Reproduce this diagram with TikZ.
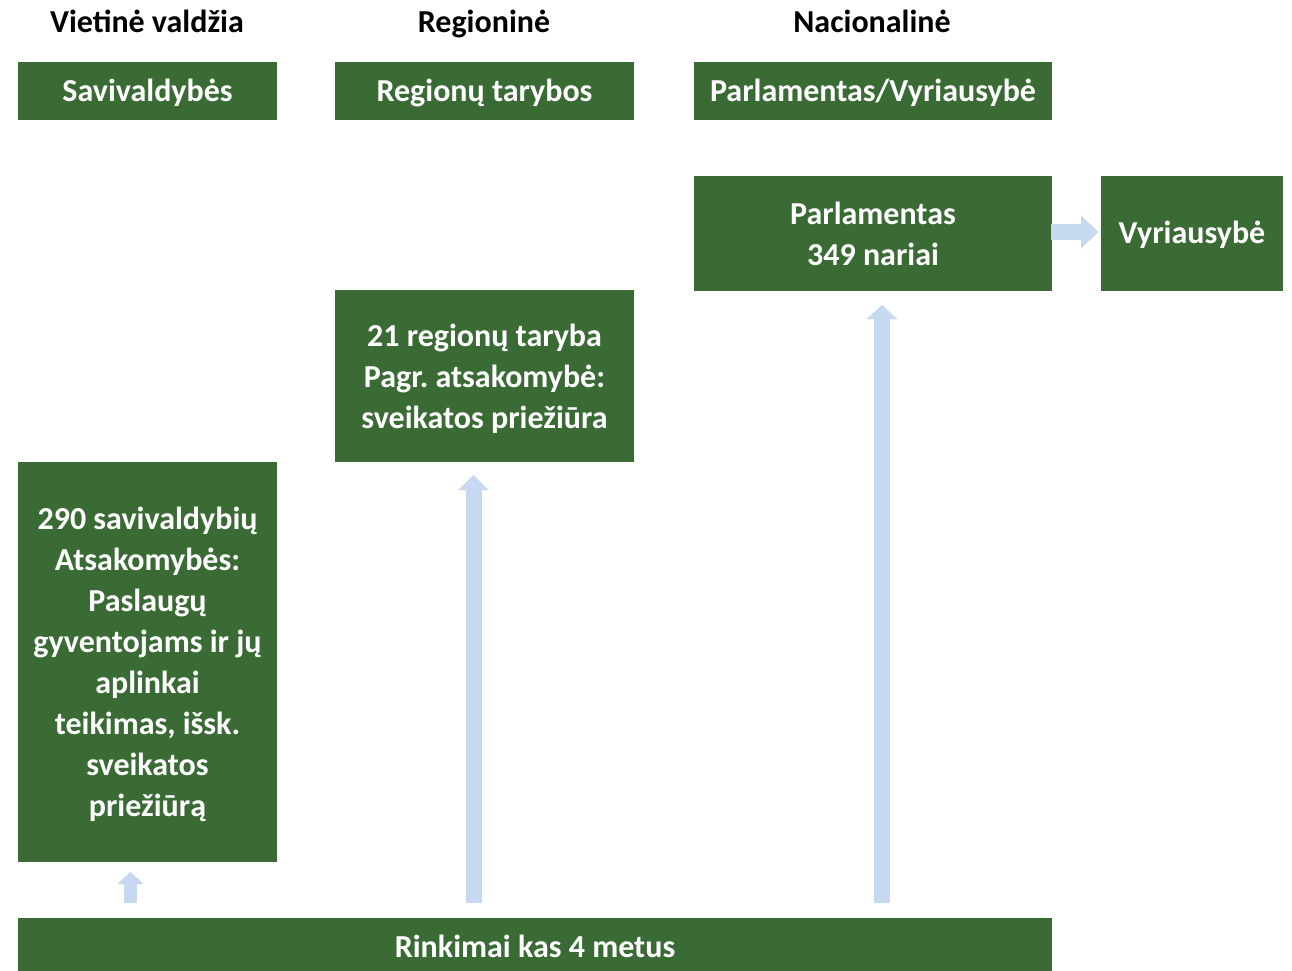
\documentclass[tikz,border=0pt]{standalone}
\usepackage{fontspec}
\setmainfont{Carlito}
\usetikzlibrary{arrows.meta}
\frenchspacing
\definecolor{boxgreen}{HTML}{3A6B35}
\definecolor{arrowblue}{HTML}{C6D9F1}
\newcommand\lstrut{\vrule width 0pt height 26pt depth 6pt\relax}
\tikzset{
  lbl/.style={font=\fontsize{32}{41}\selectfont\bfseries\frenchspacing, align=center, inner sep=0pt,
    execute at begin node=\lstrut, execute at end node=\lstrut},
  box/.style={lbl, fill=boxgreen, text=white, minimum width=#1, anchor=center},
  mlbox/.style={box=#1, text depth=0pt},
  barrow/.style={draw=arrowblue, line width=#1},
  bshadow/.style={draw=black, draw opacity=0.18, line width=#1},
}
\begin{document}
\begin{tikzpicture}[x=1pt,y=-1pt]
\useasboundingbox (0,0) rectangle (1292,970);
% headers
\node[lbl] (h1) at (147,22) {Vietinė valdžia};
\node[lbl] (h2) at (484,22) {Regioninė};
\node[lbl] (h3) at (872,22) {Nacionalinė};
% top boxes
\node[box=259pt, minimum height=58pt] (sav) at (147.5,91) {Savivaldybės};
\node[box=299pt, minimum height=58pt] (reg) at (484.5,91) {Regionų tarybos};
\node[box=358pt, minimum height=58pt] (par) at (873,91) {Parlamentas/Vyriausybė};
% content boxes
\node[mlbox=358pt, minimum height=115pt] (parl) at (873,233.5) {Parlamentas\\349 nariai};
\node[box=182pt, minimum height=115pt] (vyr) at (1192,233.5) {Vyriausybė};
\node[mlbox=299pt, minimum height=172pt] (r21) at (484.5,376) {21 regionų taryba\\Pagr. atsakomybė:\\sveikatos priežiūra};
\node[mlbox=259pt, minimum height=400pt] (s290) at (147.5,662) {290 savivaldybių\\Atsakomybės:\\Paslaugų\\gyventojams ir jų\\aplinkai\\teikimas, išsk.\\sveikatos\\priežiūrą};
\node[box=1034pt, minimum height=58pt] (rink) at (535,947) {Rinkimai kas 4 metus};
% arrow end points
\coordinate (a1s) at (130.5,903);
\coordinate (a1e) at (130.5,872);
\coordinate (a2s) at (473.5,903);
\coordinate (a2e) at (473.5,475);
\coordinate (a3s) at (882,903);
\coordinate (a3e) at (882,305);
\coordinate (a4s) at (1051,232);
\coordinate (a4e) at (1098,232);
% shadows
\begin{scope}[xshift=1.5pt,yshift=-2.5pt]
\draw[bshadow=13pt, -{Triangle[width=25pt,length=12pt]}] (a1s) -- (a1e);
\draw[bshadow=16pt, -{Triangle[width=29pt,length=15pt]}] (a2s) -- (a2e);
\draw[bshadow=16pt, -{Triangle[width=29pt,length=14pt]}] (a3s) -- (a3e);
\draw[bshadow=16pt, -{Triangle[width=32pt,length=17pt]}] (a4s) -- (a4e);
\end{scope}
% arrows
\draw[barrow=13pt, -{Triangle[width=25pt,length=12pt]}] (a1s) -- (a1e);
\draw[barrow=16pt, -{Triangle[width=29pt,length=15pt]}] (a2s) -- (a2e);
\draw[barrow=16pt, -{Triangle[width=29pt,length=14pt]}] (a3s) -- (a3e);
\draw[barrow=16pt, -{Triangle[width=32pt,length=17pt]}] (a4s) -- (a4e);
\end{tikzpicture}
\end{document}
